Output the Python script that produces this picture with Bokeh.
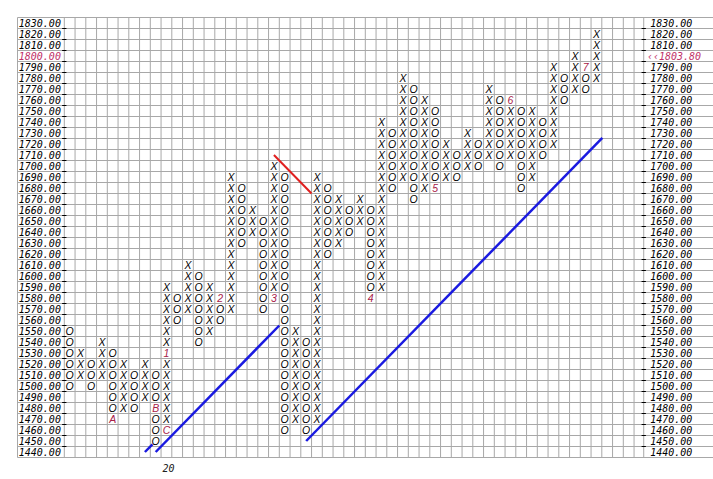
from bokeh.plotting import figure
from bokeh.models import Range1d
from bokeh.core.properties import value
from bokeh.embed import file_html
from bokeh.resources import INLINE

# ---------------- data ----------------
BOX = 10
price_levels = [1830, 1820, 1810, 1800, 1790, 1780, 1770, 1760, 1750, 1740,
                1730, 1720, 1710, 1700, 1690, 1680, 1670, 1660, 1650, 1640,
                1630, 1620, 1610, 1600, 1590, 1580, 1570, 1560, 1550, 1540,
                1530, 1520, 1510, 1500, 1490, 1480, 1470, 1460, 1450, 1440]
price_labels = ["%.2f" % v for v in price_levels]
current_level = 1800
current_label = "‹‹1803.80"

col_type = ["O", "X", "O", "X", "O", "X", "O", "X", "O", "X",
            "O", "X", "O", "X", "O", "X", "O", "X", "O", "X",
            "O", "X", "O", "X", "O", "X", "O", "X", "O", "X",
            "O", "X", "O", "X", "O", "X", "O", "X", "O", "X",
            "O", "X", "O", "X", "O", "X", "O", "X", "O", "X"]
col_low = [1500, 1510, 1500, 1510, 1470, 1480, 1480, 1490, 1450, 1460,
           1560, 1570, 1540, 1550, 1560, 1570, 1630, 1640, 1570, 1580,
           1460, 1470, 1460, 1470, 1620, 1630, 1640, 1650, 1580, 1590,
           1680, 1690, 1670, 1680, 1680, 1690, 1690, 1700, 1700, 1710,
           1700, 1710, 1680, 1690, 1710, 1720, 1760, 1770, 1770, 1780]
col_high = [1550, 1530, 1520, 1540, 1530, 1520, 1510, 1520, 1510, 1590,
            1580, 1610, 1600, 1590, 1580, 1690, 1680, 1660, 1650, 1700,
            1690, 1550, 1540, 1690, 1680, 1670, 1660, 1670, 1660, 1740,
            1730, 1780, 1770, 1760, 1750, 1720, 1710, 1730, 1720, 1770,
            1760, 1760, 1750, 1750, 1740, 1790, 1780, 1800, 1790, 1820]

month_col = [4, 8, 9, 9, 14, 19, 28, 34, 41, 48]
month_val = [1470, 1480, 1460, 1530, 1580, 1580, 1580, 1680, 1760, 1790]
month_txt = ["A", "B", "C", "1", "2", "3", "4", "5", "6", "7"]

year_col = 9
year_txt = "20"

# 45-degree trend lines (column units, price)
support_x0 = [7.5, 8.5, 22.5]
support_y0 = [1440, 1440, 1450]
support_x1 = [8.2, 20.0, 50.05]
support_y1 = [1447, 1555, 1725.5]
resist_x0 = [19.5]
resist_y0 = [1710]
resist_x1 = [23.0]
resist_y1 = [1675]

# ---------------- layout ----------------
W, H = 713, 479
COL_PX, ROW_PX = 10.75, 11.0
n_cols_visible = 53.9
top_edge = price_levels[0] + BOX / 2
bottom_edge = price_levels[-1] - BOX / 2
x_start = -63.8 / COL_PX
x_end = x_start + W / COL_PX
y_top = top_edge + 17 / ROW_PX * BOX
y_bot = y_top - H / ROW_PX * BOX
label_left = (17 - 63.8) / COL_PX

p = figure(width=W, height=H, output_backend="svg", toolbar_location=None,
           x_range=Range1d(x_start, x_end), y_range=Range1d(y_bot, y_top),
           x_axis_location=None, y_axis_location=None, min_border=0,
           outline_line_color=None, background_fill_color="white",
           border_fill_color="white")
p.grid.visible = False

GRID = "#a8a8a8"
# horizontal grid lines (through label areas too)
hy = [v + BOX / 2 for v in price_levels] + [bottom_edge]
p.segment(x0=[label_left] * len(hy), x1=[x_end] * len(hy), y0=hy, y1=hy,
          line_color=GRID, line_width=1)
# vertical grid lines
vx = list(range(0, 54)) + [n_cols_visible, label_left]
p.segment(x0=vx, x1=vx, y0=[bottom_edge] * len(vx), y1=[top_edge] * len(vx),
          line_color=GRID, line_width=1)
# tick marks at both edges
ty = [v - BOX / 2 for v in price_levels[:-1]]
tk = 0.2
p.segment(x0=[-tk] * len(ty), x1=[tk] * len(ty), y0=ty, y1=ty, line_color="black", line_width=1)
p.segment(x0=[n_cols_visible - tk] * len(ty), x1=[n_cols_visible + tk] * len(ty), y0=ty, y1=ty,
          line_color="black", line_width=1)

# price labels
left_col = ["#c03068" if v == current_level else "black" for v in price_levels]
p.text(x=[label_left / 2 - 0.1] * len(price_levels), y=price_levels, text=price_labels,
       text_align="center", text_baseline="middle", text_color=left_col,
       text_font=value("DejaVu Sans Mono"), text_font_style="italic", text_font_size="10px")
rl = [lab for v, lab in zip(price_levels, price_labels) if v != current_level]
rv = [v for v in price_levels if v != current_level]
p.text(x=[n_cols_visible + 0.6] * len(rv), y=rv, text=rl,
       text_align="left", text_baseline="middle", text_color="black",
       text_font=value("DejaVu Sans Mono"), text_font_style="italic", text_font_size="10px")
p.text(x=[n_cols_visible + 0.3], y=[current_level], text=[current_label],
       text_align="left", text_baseline="middle", text_color="#c03068",
       text_font=value("DejaVu Sans Mono"), text_font_style="italic", text_font_size="10px")

# X / O boxes
month_set = set(zip(month_col, month_val))
mx, my, mt = [], [], []
for c, (t, lo, hi) in enumerate(zip(col_type, col_low, col_high)):
    v = lo
    while v <= hi:
        if (c, v) not in month_set:
            mx.append(c + 0.5)
            my.append(v)
            mt.append(t)
        v += BOX
p.text(x=mx, y=my, text=mt, text_align="center", text_baseline="middle",
       text_color="black", text_font=value("Liberation Sans"),
       text_font_style="italic", text_font_size="10.5px")
p.text(x=[c + 0.5 for c in month_col], y=month_val, text=month_txt,
       text_align="center", text_baseline="middle", text_color="#a82048",
       text_font=value("Liberation Sans"), text_font_style="italic", text_font_size="10.5px")

# year marker
p.text(x=[year_col + 0.7], y=[bottom_edge - 0.95 * BOX], text=[year_txt],
       text_align="center", text_baseline="middle", text_color="#202020",
       text_font=value("DejaVu Sans Mono"), text_font_style="italic", text_font_size="10px")

# trend lines
p.segment(x0=support_x0, y0=support_y0, x1=support_x1, y1=support_y1,
          line_color="#1a1ae0", line_width=2.5)
p.segment(x0=resist_x0, y0=resist_y0, x1=resist_x1, y1=resist_y1,
          line_color="#e02020", line_width=2)

open("out.html", "w").write(file_html(p, INLINE))
